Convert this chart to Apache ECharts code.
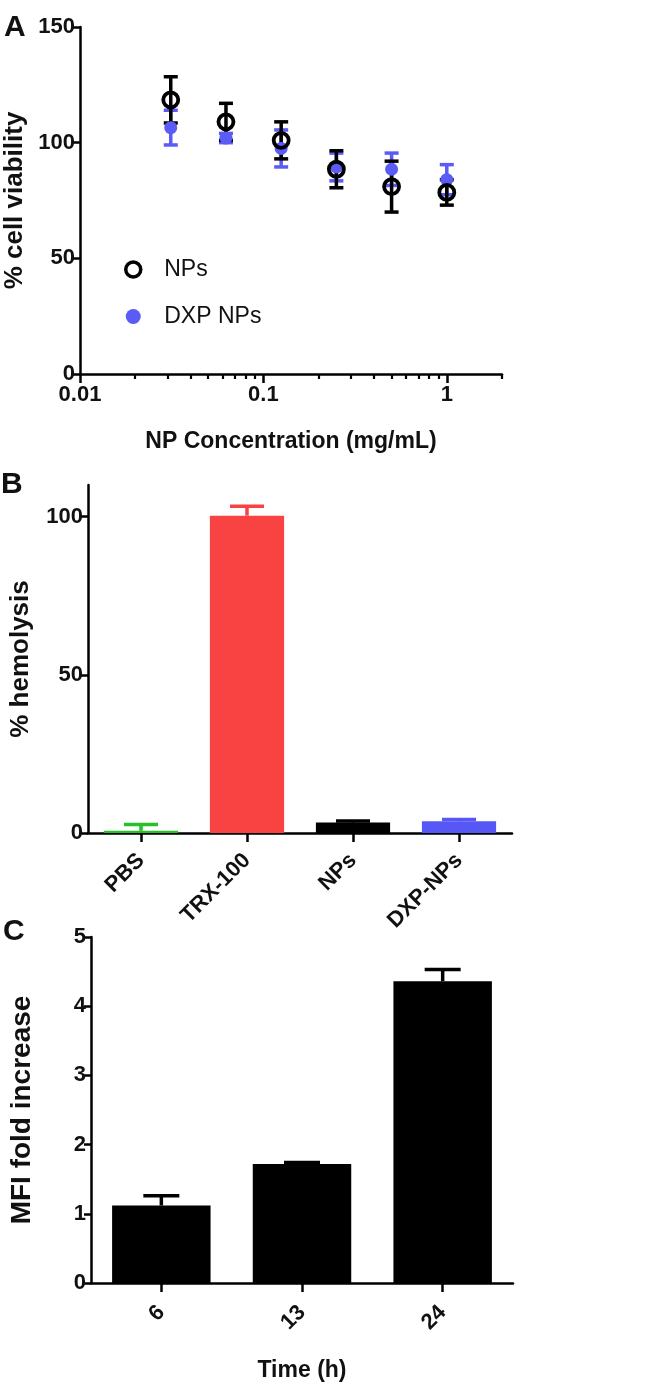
<!DOCTYPE html>
<html>
<head>
<meta charset="utf-8">
<script src="https://cdn.jsdelivr.net/npm/echarts@6/dist/echarts.min.js"></script>
<style>
html,body{margin:0;padding:0;background:#fff;}
#chart{width:645px;height:1393px;}
</style>
</head>
<body>
<div id="chart"></div>
<script>
// ---------- Panel A data ----------
var concA = [0.03125, 0.0625, 0.125, 0.25, 0.5, 1];
var npsMean = [118.5, 109, 101, 88.5, 81, 78.5];
var npsErr = [10, 8, 8, 8, 11, 5.5];
var dxpMean = [106.5, 102, 97.5, 89.5, 88.5, 84];
var dxpErr = [7.5, 2, 8, 6, 7, 6.5];
var xMajorA = [0.01, 0.1, 1];
var xMajorLabelsA = ['0.01', '0.1', '1'];
var xMinorA = [0.02,0.03,0.04,0.05,0.06,0.07,0.08,0.09,0.2,0.3,0.4,0.5,0.6,0.7,0.8,0.9,2];

// ---------- Panel B data ----------
var catB = ['PBS', 'TRX-100', 'NPs', 'DXP-NPs'];
var hemoMean = [0.7, 100.3, 3.3, 3.7];
var hemoErr = [2, 3, 0.5, 0.6];
var yTicksB = [0, 50, 100];

// ---------- Panel C data ----------
var catC = ['6', '13', '24'];
var mfiMean = [1.12, 1.72, 4.36];
var mfiErr = [0.14, 0.02, 0.17];

// ---------- styles ----------
var colorsB = ['#27c127', '#f94242', '#000000', '#5757f5'];
var blue = '#5b5bf5';
var FONT = '"Liberation Sans", Arial, sans-serif';
var ink = '#111';

function errBar(colorFn, twoSided, capW, lw) {
  return function (params, api) {
    var x = api.value(0), y = api.value(1), e = api.value(2);
    var lo = twoSided ? y - e : y;
    var pLo = api.coord([x, lo]);
    var pHi = api.coord([x, y + e]);
    var c = colorFn(params.dataIndex);
    var st = {stroke: c, lineWidth: lw};
    var ch = [
      {type: 'line', shape: {x1: pLo[0], y1: pLo[1], x2: pHi[0], y2: pHi[1]}, style: st},
      {type: 'line', shape: {x1: pHi[0] - capW / 2, y1: pHi[1], x2: pHi[0] + capW / 2, y2: pHi[1]}, style: st}
    ];
    if (twoSided) ch.push({type: 'line', shape: {x1: pLo[0] - capW / 2, y1: pLo[1], x2: pLo[0] + capW / 2, y2: pLo[1]}, style: st});
    return {type: 'group', children: ch};
  };
}

var axisLine = {show: true, lineStyle: {color: '#000', width: 2.5}};
var tickLbl = {color: ink, fontFamily: FONT, fontWeight: 'bold', fontSize: 22};
var catLbl = {color: ink, fontFamily: FONT, fontWeight: 'bold', fontSize: 22};
var xNameSt = {color: ink, fontFamily: FONT, fontWeight: 'bold', fontSize: 23};
var yNameSt = {color: ink, fontFamily: FONT, fontWeight: 'bold', fontSize: 26};

function zip3(a, b, c) { return a.map(function (v, i) { return [v, b[i], c[i]]; }); }

var chart = echarts.init(document.getElementById('chart'), null, {renderer: 'canvas'});
var option = {
  animation: false,
  backgroundColor: '#fff',
  graphic: [
    {type: 'text', left: 4, top: 13, style: {text: 'A', fontFamily: FONT, fontWeight: 'bold', fontSize: 30, fill: ink}},
    {type: 'text', left: 1, top: 470, style: {text: 'B', fontFamily: FONT, fontWeight: 'bold', fontSize: 30, fill: ink}},
    {type: 'text', left: 3, top: 917, style: {text: 'C', fontFamily: FONT, fontWeight: 'bold', fontSize: 30, fill: ink}}
  ],
  legend: {
    orient: 'vertical', left: 119, top: 253, itemWidth: 44, itemHeight: 15, itemGap: 24,
    textStyle: {color: ink, fontFamily: FONT, fontSize: 23, padding: [0, 0, 0, 4]},
    data: [
      {name: 'NPs', icon: 'circle', itemStyle: {color: '#fff', borderColor: '#000', borderWidth: 3.5}},
      {name: 'DXP NPs', icon: 'circle', itemStyle: {color: blue, borderWidth: 0}}
    ]
  },
  grid: [
    {left: 80, top: 27, width: 422, height: 347, outerBoundsMode: 'none', containLabel: false},
    {left: 88, top: 485, width: 424, height: 348, outerBoundsMode: 'none', containLabel: false},
    {left: 91, top: 937, width: 422, height: 346, outerBoundsMode: 'none', containLabel: false}
  ],
  xAxis: [
    {type: 'log', logBase: 10, gridIndex: 0, min: 0.01, max: 2, position: 'bottom',
     axisLine: axisLine,
     axisTick: {show: true, length: 9, lineStyle: {width: 2.5, color: '#000'}, customValues: xMajorA},
     axisLabel: Object.assign({margin: 10, customValues: xMajorA,
       formatter: function (v) { for (var i = 0; i < xMajorA.length; i++) if (Math.abs(v - xMajorA[i]) < 1e-9) return xMajorLabelsA[i]; return ''; }}, tickLbl),
     splitLine: {show: false}, minorTick: {show: false},
     name: 'NP Concentration (mg/mL)', nameLocation: 'middle', nameGap: 56, nameTextStyle: xNameSt},
    {type: 'log', logBase: 10, gridIndex: 0, min: 0.01, max: 2, position: 'bottom', offset: 0,
     axisLine: {show: false},
     axisTick: {show: true, length: 5, lineStyle: {width: 2.2, color: '#000'}, customValues: xMinorA},
     axisLabel: {show: false}, splitLine: {show: false}},
    {type: 'category', gridIndex: 1, data: catB,
     axisLine: axisLine,
     axisTick: {show: true, alignWithLabel: true, length: 9, lineStyle: {width: 2.5, color: '#000'}},
     axisLabel: Object.assign({rotate: 45, margin: 24, interval: 0}, catLbl),
     splitLine: {show: false}},
    {type: 'category', gridIndex: 2, data: catC,
     axisLine: axisLine,
     axisTick: {show: true, alignWithLabel: true, length: 9, lineStyle: {width: 2.5, color: '#000'}},
     axisLabel: Object.assign({rotate: 45, margin: 26, interval: 0}, catLbl),
     splitLine: {show: false},
     name: 'Time (h)', nameLocation: 'middle', nameGap: 76, nameTextStyle: xNameSt}
  ],
  yAxis: [
    {type: 'value', gridIndex: 0, min: 0, max: 150, interval: 50,
     axisLine: axisLine,
     axisTick: {show: true, length: 7, lineStyle: {width: 2.5, color: '#000'}},
     axisLabel: Object.assign({margin: 5}, tickLbl), splitLine: {show: false},
     name: '% cell viability', nameLocation: 'middle', nameGap: 50, nameRotate: 90, nameTextStyle: yNameSt},
    {type: 'value', gridIndex: 1, min: 0, max: 110, interval: 50,
     axisLine: axisLine,
     axisTick: {show: true, length: 7, lineStyle: {width: 2.5, color: '#000'}, customValues: yTicksB},
     axisLabel: Object.assign({margin: 5, customValues: yTicksB}, tickLbl), splitLine: {show: false},
     name: '% hemolysis', nameLocation: 'middle', nameGap: 54, nameRotate: 90, nameTextStyle: yNameSt},
    {type: 'value', gridIndex: 2, min: 0, max: 5, interval: 1,
     axisLine: axisLine,
     axisTick: {show: true, length: 7, lineStyle: {width: 2.5, color: '#000'}},
     axisLabel: Object.assign({margin: 5}, tickLbl), splitLine: {show: false},
     name: 'MFI fold increase', nameLocation: 'middle', nameGap: 55, nameRotate: 90,
     nameTextStyle: Object.assign({}, yNameSt, {fontSize: 28})}
  ],
  series: [
    {type: 'custom', name: 'DXP err', xAxisIndex: 0, yAxisIndex: 0, clip: false,
     renderItem: errBar(function () { return blue; }, true, 14, 3.5),
     encode: {x: 0, y: 1}, data: zip3(concA, dxpMean, dxpErr)},
    {type: 'scatter', name: 'DXP NPs', xAxisIndex: 0, yAxisIndex: 0, symbol: 'circle', symbolSize: 13,
     itemStyle: {color: blue, opacity: 1},
     data: concA.map(function (c, i) { return [c, dxpMean[i]]; })},
    {type: 'custom', name: 'NPs err', xAxisIndex: 0, yAxisIndex: 0, clip: false,
     renderItem: errBar(function () { return '#000'; }, true, 14, 3.5),
     encode: {x: 0, y: 1}, data: zip3(concA, npsMean, npsErr)},
    {type: 'scatter', name: 'NPs', xAxisIndex: 0, yAxisIndex: 0, symbol: 'circle', symbolSize: 15,
     itemStyle: {color: 'rgba(0,0,0,0)', borderColor: '#000', borderWidth: 3.8, opacity: 1},
     data: concA.map(function (c, i) { return [c, npsMean[i]]; })},

    {type: 'bar', xAxisIndex: 2, yAxisIndex: 1, barWidth: '70%',
     data: hemoMean.map(function (v, i) { return {value: v, itemStyle: {color: colorsB[i]}}; })},
    {type: 'custom', xAxisIndex: 2, yAxisIndex: 1, clip: false,
     renderItem: errBar(function (i) { return colorsB[i]; }, false, 34, 3.5),
     encode: {x: 0, y: 1}, data: hemoMean.map(function (v, i) { return [i, v, hemoErr[i]]; })},

    {type: 'bar', xAxisIndex: 3, yAxisIndex: 2, barWidth: '70%', itemStyle: {color: '#000'},
     data: mfiMean},
    {type: 'custom', xAxisIndex: 3, yAxisIndex: 2, clip: false,
     renderItem: errBar(function () { return '#000'; }, false, 36, 3.5),
     encode: {x: 0, y: 1}, data: mfiMean.map(function (v, i) { return [i, v, mfiErr[i]]; })}
  ]
};
chart.setOption(option);
</script>
</body>
</html>
